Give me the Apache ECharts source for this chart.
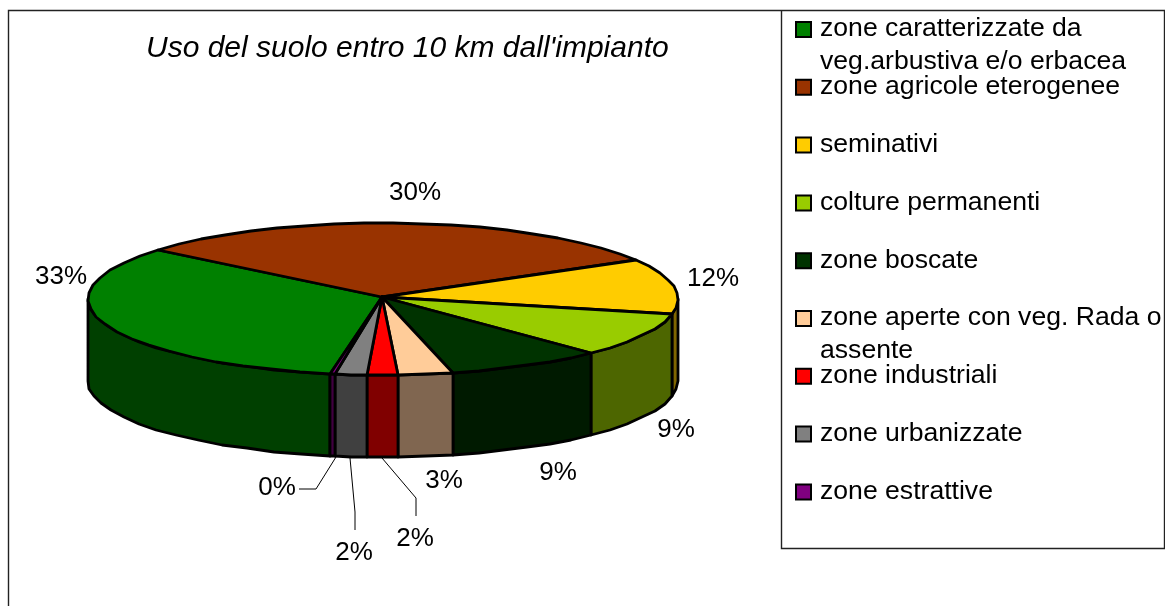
<!DOCTYPE html>
<html>
<head>
<meta charset="utf-8">
<style>
  html, body { margin: 0; padding: 0; background: #fff; }
  #chart { width: 1165px; height: 606px; }
</style>
<script src="https://cdn.jsdelivr.net/npm/echarts@6/dist/echarts.min.js"></script>
</head>
<body>
<div id="chart"></div>
<script>
var categories = [
  "zone caratterizzate da\nveg.arbustiva e/o erbacea",
  "zone agricole eterogenee",
  "seminativi",
  "colture permanenti",
  "zone boscate",
  "zone aperte con veg. Rada o\nassente",
  "zone industriali",
  "zone urbanizzate",
  "zone estrattive"
];
var values = [33.3, 30.2, 11.8, 9.3, 8.6, 3.0, 1.7, 1.7, 0.3];
var topColors = ["#008000", "#993300", "#FFCC00", "#99CC00", "#003300", "#FFCC99", "#FF0000", "#808080", "#800080"];
var sideColors = ["#004000", "#4D1A00", "#806600", "#4D6600", "#001A00", "#806650", "#800000", "#404040", "#400040"];

// pie geometry
var cx = 383, cy = 299, rx = 295, ry = 76, depth = 82;
var apexX = 382, apexY = 297;
var startAngle = 190.4;
var fontName = "Liberation Sans";

var total = values.reduce(function (a, b) { return a + b; }, 0);

function rimPoint(deg, dy) {
  var t = deg * Math.PI / 180;
  // whole pixels give the slightly rough rim of the original
  return [Math.round(cx + rx * Math.sin(t)), Math.round(cy - ry * Math.cos(t) + (dy || 0))];
}

function sliceRange(i) {
  var before = 0;
  for (var k = 0; k < i; k++) before += values[k];
  var a = startAngle + before / total * 360;
  return [a, a + values[i] / total * 360];
}

function arcPoints(a, b, dy) {
  var pts = [];
  var n = Math.max(1, Math.ceil((b - a) / 6));
  for (var k = 0; k <= n; k++) {
    pts.push(rimPoint(a + (b - a) * k / n, dy));
  }
  return pts;
}

var edge = { stroke: "#000", lineWidth: 2.8, lineJoin: "round" };

function wallItem(params, api) {
  var i = api.value(0);
  var r = sliceRange(i);
  var children = [];
  // only the front half of the rim is visible
  [90, 450].forEach(function (from) {
    var lo = Math.max(r[0], from), hi = Math.min(r[1], from + 180);
    if (hi <= lo) return;
    var pts = arcPoints(lo, hi, 0).concat(arcPoints(lo, hi, depth).reverse());
    children.push({
      type: "polygon",
      shape: { points: pts },
      style: Object.assign({ fill: sideColors[i] }, edge)
    });
  });
  return { type: "group", children: children };
}

function topItem(params, api) {
  var i = api.value(0);
  var r = sliceRange(i);
  var pts = [[apexX, apexY]].concat(arcPoints(r[0], r[1], 0));
  return {
    type: "polygon",
    shape: { points: pts },
    style: Object.assign({ fill: topColors[i] }, edge)
  };
}

// where each percent label sits, with its leader line if it has one
var labelSpots = [
  { x: 61, y: 277 },
  { x: 415, y: 193 },
  { x: 713, y: 279 },
  { x: 676, y: 430 },
  { x: 558, y: 473 },
  { x: 444, y: 481 },
  { x: 415, y: 539, line: [[382, 458], [416, 498], [416, 516]] },
  { x: 354, y: 553, line: [[350, 458], [355, 512], [355, 530]] },
  { x: 277, y: 488, line: [[336, 457], [316, 489], [299, 489]] }
];

function labelItem(params, api) {
  var i = api.value(0);
  var spot = labelSpots[i];
  var children = [{
    type: "text",
    style: {
      x: spot.x, y: spot.y,
      text: Math.round(api.value(1) / total * 100) + "%",
      fill: "#000",
      font: "26px '" + fontName + "'",
      align: "center",
      verticalAlign: "middle"
    }
  }];
  if (spot.line) {
    children.push({
      type: "polyline",
      shape: { points: spot.line },
      style: { stroke: "#000", lineWidth: 1, fill: null }
    });
  }
  return { type: "group", children: children };
}

function legendItem(params, api) {
  var i = api.value(0);
  var mid = 29.5 + 57.8 * i;
  return {
    type: "group",
    children: [{
      type: "rect",
      shape: { x: 796, y: mid - 7.5, width: 15, height: 15 },
      style: { fill: topColors[i], stroke: "#000", lineWidth: 2 }
    }, {
      type: "text",
      style: {
        x: 820, y: mid - 17,
        text: categories[i],
        fill: "#000",
        font: "26.6px '" + fontName + "'",
        lineHeight: 33,
        align: "left",
        verticalAlign: "top"
      }
    }]
  };
}

var rows = values.map(function (v, i) { return [i, v]; });
function customSeries(name, fn, z) {
  return { name: name, type: "custom", coordinateSystem: "none", renderItem: fn, data: rows, z: z, silent: true, animation: false };
}

var myChart = echarts.init(document.getElementById("chart"), null, { renderer: "canvas" });
myChart.setOption({
  animation: false,
  backgroundColor: "#fff",
  title: {
    text: "Uso del suolo entro 10 km dall'impianto",
    left: 146,
    top: 34,
    padding: 0,
    textStyle: { fontFamily: fontName, fontStyle: "italic", fontWeight: "normal", fontSize: 30, color: "#000" }
  },
  graphic: [
    {
      type: "polyline",
      shape: { points: [[8.5, 606], [8.5, 10.5], [1165, 10.5]] },
      style: { stroke: "#222", lineWidth: 1.4, fill: null }
    },
    {
      type: "polyline",
      shape: { points: [[781.5, 10.5], [781.5, 548.5], [1164.5, 548.5], [1164.5, 10.5]] },
      style: { stroke: "#222", lineWidth: 1.4, fill: null }
    }
  ],
  series: [
    customSeries("walls", wallItem, 2),
    customSeries("tops", topItem, 3),
    customSeries("labels", labelItem, 4),
    customSeries("legend", legendItem, 4)
  ]
});
</script>
</body>
</html>
